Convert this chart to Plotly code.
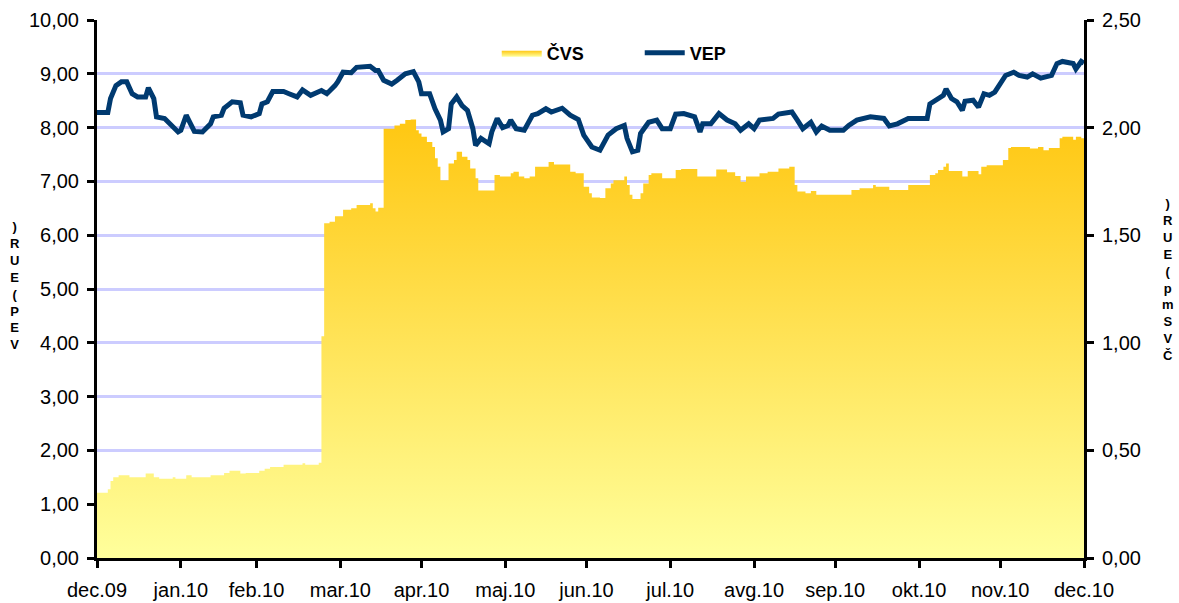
import plotly.graph_objects as go

# ---------------- data ----------------
cvs_dates = [
    "2009-12-31", "2010-01-04", "2010-01-05", "2010-01-06", "2010-01-08", "2010-01-12",
    "2010-01-18", "2010-01-21", "2010-01-23", "2010-01-28", "2010-01-29", "2010-02-02",
    "2010-02-04", "2010-02-11", "2010-02-16", "2010-02-18", "2010-02-22", "2010-02-24",
    "2010-03-01", "2010-03-03", "2010-03-05", "2010-03-10", "2010-03-17", "2010-03-18",
    "2010-03-23", "2010-03-24", "2010-03-25", "2010-03-27", "2010-03-29", "2010-04-01",
    "2010-04-04", "2010-04-06", "2010-04-11", "2010-04-12", "2010-04-13", "2010-04-14",
    "2010-04-16", "2010-04-20", "2010-04-22", "2010-04-24", "2010-04-26", "2010-04-28",
    "2010-04-29", "2010-04-30", "2010-05-02", "2010-05-04", "2010-05-05", "2010-05-06",
    "2010-05-07", "2010-05-10", "2010-05-12", "2010-05-13", "2010-05-15", "2010-05-17",
    "2010-05-18", "2010-05-20", "2010-05-21", "2010-05-27", "2010-05-29", "2010-06-02",
    "2010-06-03", "2010-06-05", "2010-06-07", "2010-06-09", "2010-06-11", "2010-06-16",
    "2010-06-18", "2010-06-24", "2010-06-26", "2010-06-29", "2010-07-01", "2010-07-02",
    "2010-07-05", "2010-07-07", "2010-07-09", "2010-07-10", "2010-07-14", "2010-07-15",
    "2010-07-16", "2010-07-17", "2010-07-20", "2010-07-21", "2010-07-23", "2010-07-24",
    "2010-07-28", "2010-08-02", "2010-08-04", "2010-08-10", "2010-08-17", "2010-08-21",
    "2010-08-24", "2010-08-26", "2010-08-28", "2010-09-02", "2010-09-05", "2010-09-09",
    "2010-09-13", "2010-09-15", "2010-09-16", "2010-09-19", "2010-09-21", "2010-09-23",
    "2010-10-06", "2010-10-09", "2010-10-14", "2010-10-15", "2010-10-20", "2010-10-27",
    "2010-11-04", "2010-11-06", "2010-11-07", "2010-11-09", "2010-11-10", "2010-11-11",
    "2010-11-16", "2010-11-18", "2010-11-22", "2010-11-23", "2010-11-25", "2010-12-01",
    "2010-12-03", "2010-12-04", "2010-12-11", "2010-12-14", "2010-12-16", "2010-12-18",
    "2010-12-22", "2010-12-23", "2010-12-27", "2010-12-28", "2010-12-30", "2010-12-31",
]
cvs_values = [
    0.303, 0.320, 0.358, 0.375, 0.385, 0.375,
    0.393, 0.375, 0.368, 0.375, 0.368, 0.385,
    0.375, 0.385, 0.395, 0.405, 0.393, 0.395,
    0.405, 0.415, 0.423, 0.433, 0.440, 0.433,
    0.443, 1.030, 1.555, 1.563, 1.588, 1.618,
    1.625, 1.640, 1.648, 1.625, 1.610, 1.628,
    1.995, 2.010, 2.018, 2.035, 2.038, 1.988,
    1.973, 1.958, 1.933, 1.910, 1.858, 1.818,
    1.755, 1.833, 1.850, 1.888, 1.865, 1.850,
    1.810, 1.765, 1.708, 1.780, 1.773, 1.788,
    1.795, 1.773, 1.765, 1.773, 1.818, 1.840,
    1.828, 1.795, 1.788, 1.725, 1.695, 1.675,
    1.673, 1.718, 1.740, 1.755, 1.773, 1.733,
    1.688, 1.668, 1.695, 1.740, 1.780, 1.788,
    1.765, 1.803, 1.808, 1.773, 1.805, 1.793,
    1.775, 1.748, 1.773, 1.788, 1.795, 1.810,
    1.818, 1.733, 1.703, 1.695, 1.705, 1.688,
    1.710, 1.718, 1.733, 1.725, 1.710, 1.733,
    1.780, 1.788, 1.803, 1.818, 1.833, 1.798,
    1.773, 1.798, 1.783, 1.818, 1.825, 1.850,
    1.905, 1.910, 1.903, 1.910, 1.895, 1.905,
    1.950, 1.958, 1.943, 1.958, 1.950, 1.950,
]

vep_dates = [
    "2009-12-31", "2010-01-04", "2010-01-05", "2010-01-07", "2010-01-09", "2010-01-11",
    "2010-01-13", "2010-01-15", "2010-01-18", "2010-01-19", "2010-01-21", "2010-01-22",
    "2010-01-25", "2010-01-30", "2010-01-31", "2010-02-02", "2010-02-03", "2010-02-05",
    "2010-02-08", "2010-02-11", "2010-02-12", "2010-02-15", "2010-02-16", "2010-02-19",
    "2010-02-22", "2010-02-23", "2010-02-26", "2010-03-01", "2010-03-02", "2010-03-04",
    "2010-03-06", "2010-03-10", "2010-03-12", "2010-03-15", "2010-03-17", "2010-03-20",
    "2010-03-24", "2010-03-26", "2010-03-29", "2010-03-30", "2010-04-01", "2010-04-04",
    "2010-04-06", "2010-04-11", "2010-04-13", "2010-04-14", "2010-04-16", "2010-04-19",
    "2010-04-21", "2010-04-24", "2010-04-27", "2010-04-29", "2010-04-30", "2010-05-03",
    "2010-05-05", "2010-05-07", "2010-05-08", "2010-05-10", "2010-05-11", "2010-05-13",
    "2010-05-15", "2010-05-17", "2010-05-19", "2010-05-20", "2010-05-22", "2010-05-25",
    "2010-05-26", "2010-05-28", "2010-05-30", "2010-06-01", "2010-06-02", "2010-06-04",
    "2010-06-07", "2010-06-10", "2010-06-12", "2010-06-15", "2010-06-17", "2010-06-21",
    "2010-06-24", "2010-06-27", "2010-06-29", "2010-07-02", "2010-07-05", "2010-07-08",
    "2010-07-11", "2010-07-14", "2010-07-15", "2010-07-17", "2010-07-19", "2010-07-20",
    "2010-07-23", "2010-07-26", "2010-07-28", "2010-07-31", "2010-08-02", "2010-08-05",
    "2010-08-09", "2010-08-11", "2010-08-12", "2010-08-15", "2010-08-18", "2010-08-21",
    "2010-08-24", "2010-08-26", "2010-08-29", "2010-08-31", "2010-09-02", "2010-09-07",
    "2010-09-09", "2010-09-14", "2010-09-16", "2010-09-18", "2010-09-21", "2010-09-23",
    "2010-09-25", "2010-09-28", "2010-10-03", "2010-10-05", "2010-10-08", "2010-10-13",
    "2010-10-18", "2010-10-20", "2010-10-23", "2010-10-27", "2010-10-30", "2010-11-03",
    "2010-11-04", "2010-11-06", "2010-11-09", "2010-11-10", "2010-11-12", "2010-11-14",
    "2010-11-16", "2010-11-17", "2010-11-20", "2010-11-22", "2010-11-24", "2010-11-26",
    "2010-11-28", "2010-12-02", "2010-12-05", "2010-12-07", "2010-12-10", "2010-12-12",
    "2010-12-15", "2010-12-19", "2010-12-21", "2010-12-23", "2010-12-27", "2010-12-28",
    "2010-12-30", "2010-12-31",
]
vep_values = [
    8.28, 8.28, 8.54, 8.78, 8.85, 8.85,
    8.63, 8.57, 8.57, 8.74, 8.54, 8.20,
    8.17, 7.92, 7.95, 8.23, 8.13, 7.93,
    7.92, 8.07, 8.20, 8.23, 8.36, 8.48,
    8.46, 8.23, 8.20, 8.26, 8.44, 8.48,
    8.67, 8.67, 8.63, 8.57, 8.70, 8.60,
    8.69, 8.63, 8.78, 8.85, 9.03, 9.02,
    9.12, 9.14, 9.06, 9.06, 8.88, 8.81,
    8.88, 9.00, 9.04, 8.85, 8.63, 8.63,
    8.35, 8.14, 7.92, 7.98, 8.44, 8.57,
    8.41, 8.32, 7.98, 7.67, 7.80, 7.70,
    7.92, 8.17, 8.00, 8.04, 8.14, 7.98,
    7.95, 8.23, 8.26, 8.35, 8.29, 8.36,
    8.23, 8.15, 7.86, 7.64, 7.58, 7.86,
    7.98, 8.04, 7.80, 7.55, 7.58, 7.89,
    8.10, 8.14, 7.98, 7.98, 8.25, 8.26,
    8.20, 7.92, 8.07, 8.07, 8.26, 8.14,
    8.07, 7.95, 8.07, 7.98, 8.14, 8.17,
    8.25, 8.29, 8.14, 7.98, 8.10, 7.92,
    8.03, 7.95, 7.95, 8.04, 8.14, 8.20,
    8.17, 8.03, 8.07, 8.17, 8.17, 8.17,
    8.44, 8.51, 8.60, 8.72, 8.54, 8.48,
    8.32, 8.49, 8.51, 8.38, 8.63, 8.60,
    8.66, 8.97, 9.03, 8.97, 8.94, 9.00,
    8.92, 8.97, 9.19, 9.23, 9.19, 9.09,
    9.23, 9.20,
]

tick_dates = [
    "2009-12-31", "2010-01-31", "2010-02-28", "2010-03-31", "2010-04-30", "2010-05-31",
    "2010-06-30", "2010-07-31", "2010-08-31", "2010-09-30", "2010-10-31", "2010-11-30",
    "2010-12-31",
]
tick_labels = [
    "dec.09", "jan.10", "feb.10", "mar.10", "apr.10", "maj.10", "jun.10",
    "jul.10", "avg.10", "sep.10", "okt.10", "nov.10", "dec.10",
]
left_title = "VEP (EUR)"
right_title = "ČVS mp (EUR)"

# ---------------- figure ----------------
W, H = 1179, 603
ML, MR, MT, MB = 97, 95, 20, 45
PW, PH = W - ML - MR, H - MT - MB
FONT = "Liberation Sans, Arial, sans-serif"

fig = go.Figure()
fig.add_trace(go.Scatter(
    x=cvs_dates, y=cvs_values, name="ČVS", yaxis="y2",
    mode="lines", line=dict(width=0, shape="hv", color="#FFC814"),
    fill="tozeroy",
    fillgradient=dict(type="vertical", start=0, stop=2.0,
                      colorscale=[[0, "#FFFF9C"], [1, "#FFC814"]]),
))
fig.add_trace(go.Scatter(
    x=vep_dates, y=vep_values, name="VEP", yaxis="y",
    mode="lines", line=dict(width=5, color="#003A70"),
))

axis_common = dict(
    showline=True, linecolor="black", linewidth=3,
    ticks="outside", ticklen=7, tickwidth=3, tickcolor="black",
    tickfont=dict(family=FONT, size=20, color="black"),
    zeroline=False, automargin=False,
)

fig.update_layout(
    width=W, height=H, autosize=False,
    margin=dict(l=ML, r=MR, t=MT, b=MB, pad=0, autoexpand=False),
    paper_bgcolor="white", plot_bgcolor="white",
    separators=",.",
    font=dict(family=FONT, color="black"),
    showlegend=True,
    legend=dict(
        orientation="h", x=0.405, y=(H - MB - 53) / PH, xanchor="left", yanchor="middle",
        font=dict(family=FONT, size=18, color="black", weight="bold"),
        bgcolor="rgba(0,0,0,0)", itemwidth=40,
        entrywidth=88, entrywidthmode="pixels",
    ),
    xaxis=dict(
        type="date", range=["2009-12-31", "2010-12-31"],
        tickmode="array", tickvals=tick_dates, ticktext=tick_labels,
        showgrid=False, ticklabelstandoff=5, **axis_common,
    ),
    yaxis=dict(
        range=[0, 10], dtick=1, tick0=0, tickformat=".2f",
        showgrid=True, gridcolor="#CCCCFF", gridwidth=3,
        ticklabelstandoff=4, **axis_common,
    ),
    yaxis2=dict(
        range=[0, 2.5], dtick=0.5, tick0=0, tickformat=".2f",
        overlaying="y", side="right", showgrid=False,
        ticklabelstandoff=4, **axis_common,
    ),
)

# stacked (upright) axis titles: one text block, letters read bottom to top
def stacked(text, px, py_center):
    letters = [ch for ch in reversed(text) if ch != " "]
    return dict(
        text="<br>".join(letters), xref="paper", yref="paper",
        x=(px - ML) / PW, y=(H - MB - py_center) / PH,
        xanchor="center", yanchor="middle", showarrow=False, align="center",
        font=dict(family=FONT, size=13, color="black", weight="bold"),
    )

fig.update_layout(annotations=[stacked(left_title, 15, 285), stacked(right_title, 1168, 279)])

fig.write_html(
    "out.html",
    config={"displayModeBar": False},
    post_script="document.body.style.margin='0';document.body.style.overflow='hidden';",
)
